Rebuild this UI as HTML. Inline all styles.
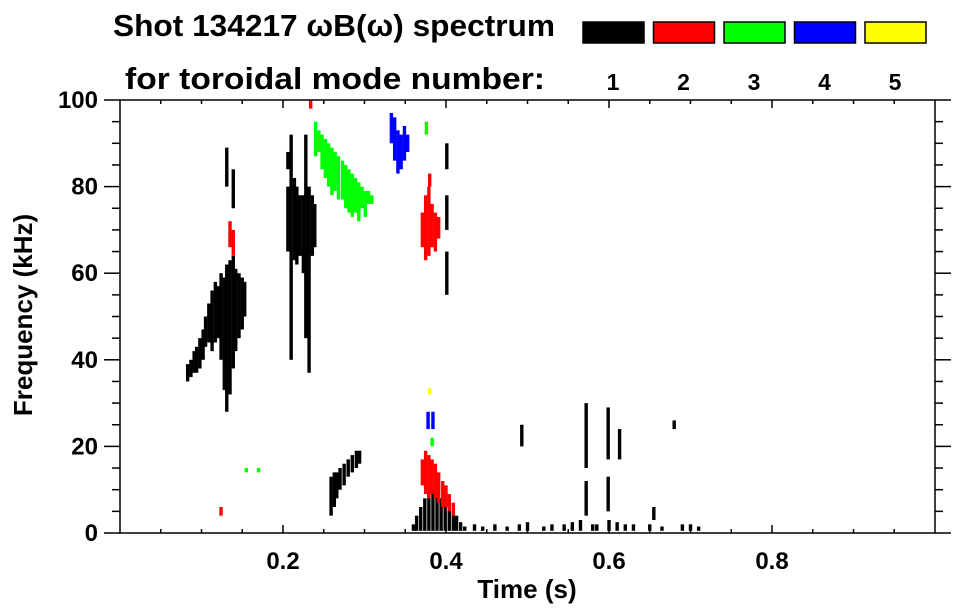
<!DOCTYPE html>
<html><head><meta charset="utf-8"><style>
html,body{margin:0;padding:0;background:#fff;}
svg{display:block;font-family:"Liberation Sans",Arial,sans-serif;font-weight:bold;}
</style></head><body>
<svg id="chart" width="963" height="615" viewBox="0 0 963 615" xmlns="http://www.w3.org/2000/svg">
<text x="113" y="36" font-size="31" textLength="442" lengthAdjust="spacingAndGlyphs">Shot 134217 ωB(ω) spectrum</text>
<text x="125" y="89" font-size="31" textLength="420" lengthAdjust="spacingAndGlyphs">for toroidal mode number:</text>
<g id="legend"></g>
<g id="marks"></g>
<g id="axes"></g>
<text x="527" y="598" font-size="26" text-anchor="middle">Time (s)</text>
<text x="0" y="0" font-size="26" text-anchor="middle" transform="translate(32,315) rotate(-90)">Frequency (kHz)</text>
</svg>
<script>
const modeLabels = ["1","2","3","4","5"];
const modeColors = ["#000000","#ff0000","#00ff00","#0000ff","#ffff00"];
const xTicks = [0.2,0.4,0.6,0.8];
const yTicks = [0,20,40,60,80,100];
// rows: [time (s), fLow (kHz), fHigh (kHz)]
const mode1 = [
[.083,35,39],[.087,36,40],[.091,37,42],[.094,37,43],[.098,38,45],[.102,40,47],[.105,43,50],[.109,44,53],[.113,42,56],[.117,44,58],[.120,45,57],[.124,40,60],[.128,33,59],[.131,28,62],[.131,80,89],[.135,32,63],[.139,38,64],[.139,75,84],[.142,42,61],[.146,45,60],[.150,47,59],[.153,50,58],
[.206,65,80],[.206,84,88],[.210,40,92],[.214,63,82],[.217,62,80],[.221,64,78],[.225,60,78],[.228,45,92],[.232,37,80],[.236,64,78],[.239,66,76],
[.259,4,13],[.263,6,14],[.266,8,14],[.270,10,15],[.275,11,16],[.280,13,17],[.285,14,18],[.290,15,19],[.294,16,19],
[.360,0.5,2],[.364,0.5,4],[.369,0.5,6],[.374,0.5,8],[.379,0.5,9],[.384,0.5,10],[.389,0.5,9],[.394,0.5,8],[.399,0.5,9],[.404,0.5,7],[.409,0.5,5],[.413,0.5,4],[.418,0.5,2.5],[.423,0.5,1.5],
[.401,55,65],[.401,70,78],[.401,84,90],
[.435,0.5,2],[.445,0.5,1.5],[.46,0.5,2],[.475,0.5,1.5],[.49,0.5,2],[.50,0.5,2.5],[.52,0.5,1.5],[.53,0.5,2],[.545,0.5,2],[.555,0.5,2.5],[.565,0.5,3],[.58,0.5,2],[.585,0.5,2],[.60,0.5,3],[.61,0.5,2.5],[.62,0.5,2],[.63,0.5,2],[.65,0.5,2],[.665,0.5,1.5],[.69,0.5,2],[.70,0.5,2],[.71,0.5,1.5],
[.572,4,12],[.572,15,30],[.599,5,13],[.599,17,29],[.613,17,24],[.493,20,25],[.655,3,6],[.68,24,26]
];
const mode2 = [
[.135,66,72],[.139,64,70],[.234,98,100],[.124,4,6],
[.371,66,74],[.375,63,78],[.379,64,80],[.380,80,83],[.383,66,76],[.387,65,74],[.391,68,73],
[.371,11,17],[.375,9,19],[.379,8,18],[.383,9,17],[.387,8,16],[.391,7,14],[.396,6,12],[.400,6,11],[.404,5,9],[.409,4,7]
];
const mode3 = [
[.240,87,95],[.244,88,93],[.248,84,92],[.252,82,91],[.256,80,90],[.260,78,89],[.264,79,88],[.268,77,87],[.273,77,86],[.277,75,85],[.281,74,84],[.285,73,83],[.289,74,82],[.293,72,81],[.297,75,80],[.301,73,79],[.305,76,79],[.309,76,78],
[.376,92,95],[.383,20,22],[.155,14,15],[.170,14,15]
];
const mode4 = [
[.333,90,97],[.337,86,96],[.341,83,93],[.345,84,92],[.349,86,94],[.353,88,92],
[.378,24,28],[.384,24,28]
];
const mode5 = [[.380,32,33.5]];
const series = [mode1,mode2,mode3,mode4,mode5];

const X0=120, XW=815, Y0=533, YH=4.33;
const sx = t => X0 + t*XW;
const sy = f => Y0 - f*YH;
const NS="http://www.w3.org/2000/svg";
function mk(tag, attrs, parent){const e=document.createElementNS(NS,tag);for(const k in attrs)e.setAttribute(k,attrs[k]);parent.appendChild(e);return e;}

const marks=document.getElementById('marks');
series.forEach((rows,mi)=>{
  rows.forEach(r=>{
    const x=sx(r[0]), y1=sy(r[2]), y2=sy(r[1]);
    const el=mk('rect',{x:x-1.7,y:y1,width:3.4,height:Math.max(1,y2-y1),fill:modeColors[mi]},marks);
    
    
  });
});

const axes=document.getElementById('axes');
const frame=mk('rect',{x:sx(0),y:sy(100),width:sx(1)-sx(0),height:sy(0)-sy(100),fill:'none',stroke:'#000','stroke-width':1.5},axes);


for(let i=1;i<20;i++){
  const t=i*0.05, major=(i%4===0), L=major?8:4;
  mk('line',{x1:sx(t),x2:sx(t),y1:sy(0),y2:sy(0)-L,stroke:'#000','stroke-width':1.5},axes);
  mk('line',{x1:sx(t),x2:sx(t),y1:sy(100),y2:sy(100)+L,stroke:'#000','stroke-width':1.5},axes);
}
xTicks.forEach(t=>{
  const el=mk('text',{x:sx(t),y:569,'font-size':24,'text-anchor':'middle'},axes);
  el.textContent=t.toFixed(1);
  
  
});
for(let i=0;i<=20;i++){
  const f=i*5, major=(i%4===0), L=major?16:8;
  mk('line',{x1:sx(0),x2:sx(0)-L,y1:sy(f),y2:sy(f),stroke:'#000','stroke-width':1.5},axes);
  mk('line',{x1:sx(1),x2:sx(1)+L,y1:sy(f),y2:sy(f),stroke:'#000','stroke-width':1.5},axes);
}
yTicks.forEach(f=>{
  const el=mk('text',{x:98,y:sy(f)+8,'font-size':24,'text-anchor':'end'},axes);
  el.textContent=f;
  
  
});

const legend=document.getElementById('legend');
modeLabels.forEach((lab,i)=>{
  const x=583+i*70.5;
  const r=mk('rect',{x:x,y:22,width:61,height:21,fill:modeColors[i],stroke:'#000','stroke-width':1.5},legend);
  
  
  const t=mk('text',{x:x+30,y:90,'font-size':23,'text-anchor':'middle'},legend);
  t.textContent=lab;
  
  
});
</script>
</body></html>
